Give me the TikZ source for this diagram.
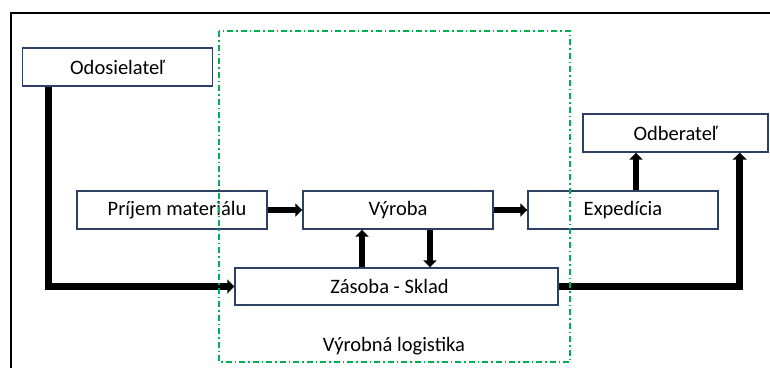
\documentclass[tikz,border=0pt]{standalone}
\usepackage{fontspec}
\setmainfont{Carlito}
\usetikzlibrary{arrows.meta,calc}
\definecolor{boxblue}{RGB}{47,64,100}
\definecolor{dgreen}{RGB}{0,176,80}
\begin{document}
\begin{tikzpicture}[x=1pt,y=-1pt,
  box/.style={draw=boxblue,line width=1.4pt,fill=white,minimum width=190pt,minimum height=38pt,inner sep=0pt,font=\fontsize{20.5}{22}\selectfont},
  flow/.style={line width=6pt,-{Triangle[length=7pt,width=13pt]}},
  bigflow/.style={line width=7pt,-{Triangle[length=7pt,width=14pt]}}]
\useasboundingbox (0,0) rectangle (770,367);
\draw[line width=2pt] (11,380) -- (11,13) -- (780,13);
\node[box] (odo) at (117.5,67) {Odosielateľ};
\node[box,minimum width=185pt] (odb) at (675.5,133) {Odberateľ};
\node[box] (pri) at (172,210) {\hspace*{10pt}Príjem materiálu};
\node[box] (vyr) at (398,210) {Výroba};
\node[box] (exp) at (623,210) {Expedícia};
\node[box,minimum width=323pt,minimum height=37pt] (zas) at (396.5,286.5) {\hspace*{-14pt}Zásoba - Sklad};
\node[font=\fontsize{20.5}{22}\selectfont] (lab) at (394,346) {Výrobná logistika};
\draw[bigflow] ([xshift=27pt]odo.south west) |- (zas.west);
\draw[bigflow] (zas.east) -| ([xshift=-29pt]odb.south east);
\draw[flow] (pri.east) -- (vyr.west);
\draw[flow] (vyr.east) -- (exp.west);
\draw[flow] ([xshift=-36pt]zas.north -| vyr.south) -- ([xshift=-36pt]vyr.south);
\draw[flow] ([xshift=32pt]vyr.south) -- ([xshift=32pt]vyr.south |- zas.north);
\draw[flow] ([xshift=13pt]exp.north) -- ([xshift=13pt]exp.north |- odb.south);
\draw[dgreen,line width=1.4pt,dash pattern=on 6pt off 3pt on 1.5pt off 3pt] (219,31) rectangle (570,362);
\end{tikzpicture}
\end{document}
